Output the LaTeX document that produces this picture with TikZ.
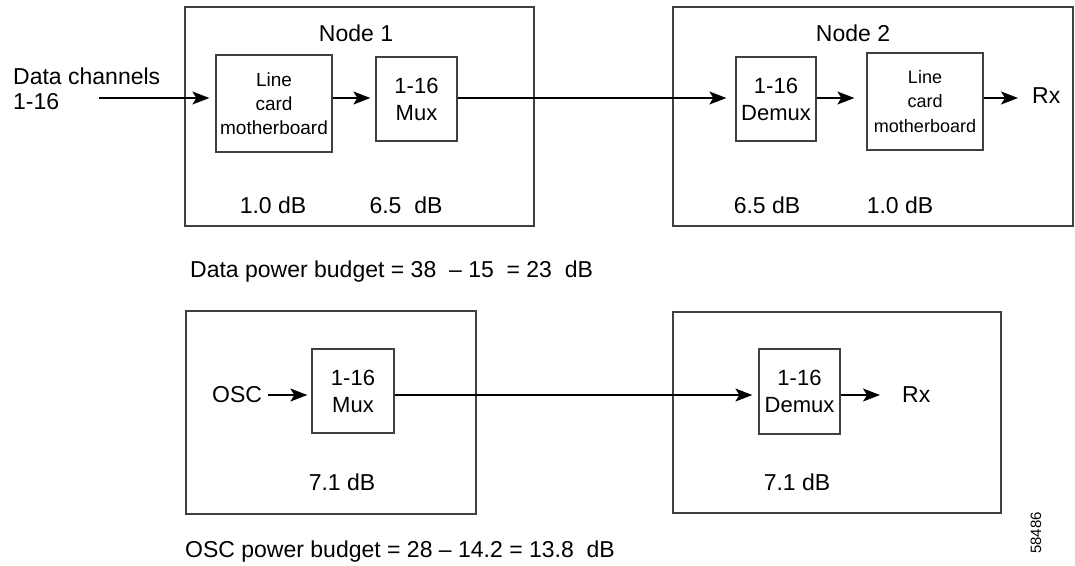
\documentclass[tikz,border=0pt]{standalone}
\usepackage{fontspec}
\setmainfont{Liberation Sans}
\usetikzlibrary{arrows.meta}
\begin{document}
\begin{tikzpicture}[x=1pt,y=-1pt,
  frame/.style={draw=black!75, line width=1.3pt, inner sep=0pt},
  blk/.style={draw=black!75, line width=1.3pt, inner sep=0pt, align=center},
  big/.style={font=\fontsize{23}{25}\selectfont},
  mid/.style={font=\fontsize{22}{27}\selectfont},
  sml/.style={font=\fontsize{19}{24}\selectfont},
  tny/.style={font=\fontsize{18}{24.5}\selectfont},
  sig/.style={draw=black, line width=1.3pt, -{Stealth[length=17pt,width=13pt,inset=4pt]}, shorten >=6pt}]
\useasboundingbox (0,0) rectangle (1075,565);

% ---- data path ----
\node[frame, minimum width=349pt, minimum height=219pt] (n1) at (359.5,116.5) {};
\node[frame, minimum width=400pt, minimum height=219pt] (n2) at (873,116.5) {};
\node[big, anchor=base] (n1t) at (356,41) {Node 1};
\node[big, anchor=base] (n2t) at (853,41) {Node 2};

\node[blk, sml, minimum width=116pt, minimum height=97pt] (lc1) at (274,103.5) {Line\\card\\motherboard};
\node[blk, mid, minimum width=81pt, minimum height=84pt] (mux1) at (416.5,99) {1-16\\Mux};
\node[blk, mid, minimum width=80pt, minimum height=84pt] (dmx2) at (776,99) {1-16\\Demux};
\node[blk, tny, minimum width=116pt, minimum height=97pt] (lc2) at (925,101.5) {Line\\card\\motherboard};

\node[big, anchor=west, align=left, inner sep=0pt] (dc) at (13,89) {Data channels\\1-16};
\node[big, anchor=west, inner sep=0pt] (rx1) at (1032,96) {Rx};
\coordinate (in1) at (99,98);

\draw[sig] (in1) -- (lc1.west |- in1);
\draw[sig, shorten >=5pt] (lc1.east |- in1) -- (mux1.west |- in1);
\draw[sig, shorten >=9pt] (mux1.east |- in1) -- (dmx2.west |- in1);
\draw[sig, shorten >=12pt] (dmx2.east |- in1) -- (lc2.west |- in1);
\draw[sig, shorten >=14pt] (lc2.east |- in1) -- (rx1.west |- in1);

\node[big, anchor=base] (l1) at (273,213) {1.0 dB};
\node[big, anchor=base] (l2) at (406,213) {6.5\ \ dB};
\node[big, anchor=base] (l3) at (767,213) {6.5 dB};
\node[big, anchor=base] (l4) at (900,213) {1.0 dB};

\node[big, anchor=base west, inner sep=0pt] (dpb) at (190,277) {Data power budget = 38\ \ – 15\ \ = 23\ \ dB};

% ---- OSC path ----
\node[frame, minimum width=290pt, minimum height=203pt] (o1) at (331,412.5) {};
\node[frame, minimum width=328pt, minimum height=201pt] (o2) at (837,412.5) {};
\node[blk, mid, minimum width=82pt, minimum height=84pt] (mux3) at (353,391) {1-16\\Mux};
\node[blk, mid, minimum width=81pt, minimum height=85pt] (dmx4) at (799.5,391.5) {1-16\\Demux};

\node[big, anchor=west, inner sep=0pt] (osc) at (212,395) {OSC};
\node[big, anchor=west, inner sep=0pt] (rx2) at (902,395) {Rx};

\draw[sig, shorten <=6pt, shorten >=4pt] (osc.east) -- (mux3.west |- osc.east);
\draw[sig] (mux3.east |- osc.east) -- (dmx4.west |- osc.east);
\draw[sig, shorten >=22pt] (dmx4.east |- osc.east) -- (rx2.west |- osc.east);

\node[big, anchor=base] (l5) at (342,490) {7.1 dB};
\node[big, anchor=base] (l6) at (797,490) {7.1 dB};

\node[big, anchor=base west, inner sep=0pt] (opb) at (185,557) {OSC power budget = 28 – 14.2 = 13.8\ \ dB};
\node[font=\fontsize{15}{15}\selectfont, rotate=90, inner sep=0pt] (num) at (1036,533) {58486};
\end{tikzpicture}
\end{document}
